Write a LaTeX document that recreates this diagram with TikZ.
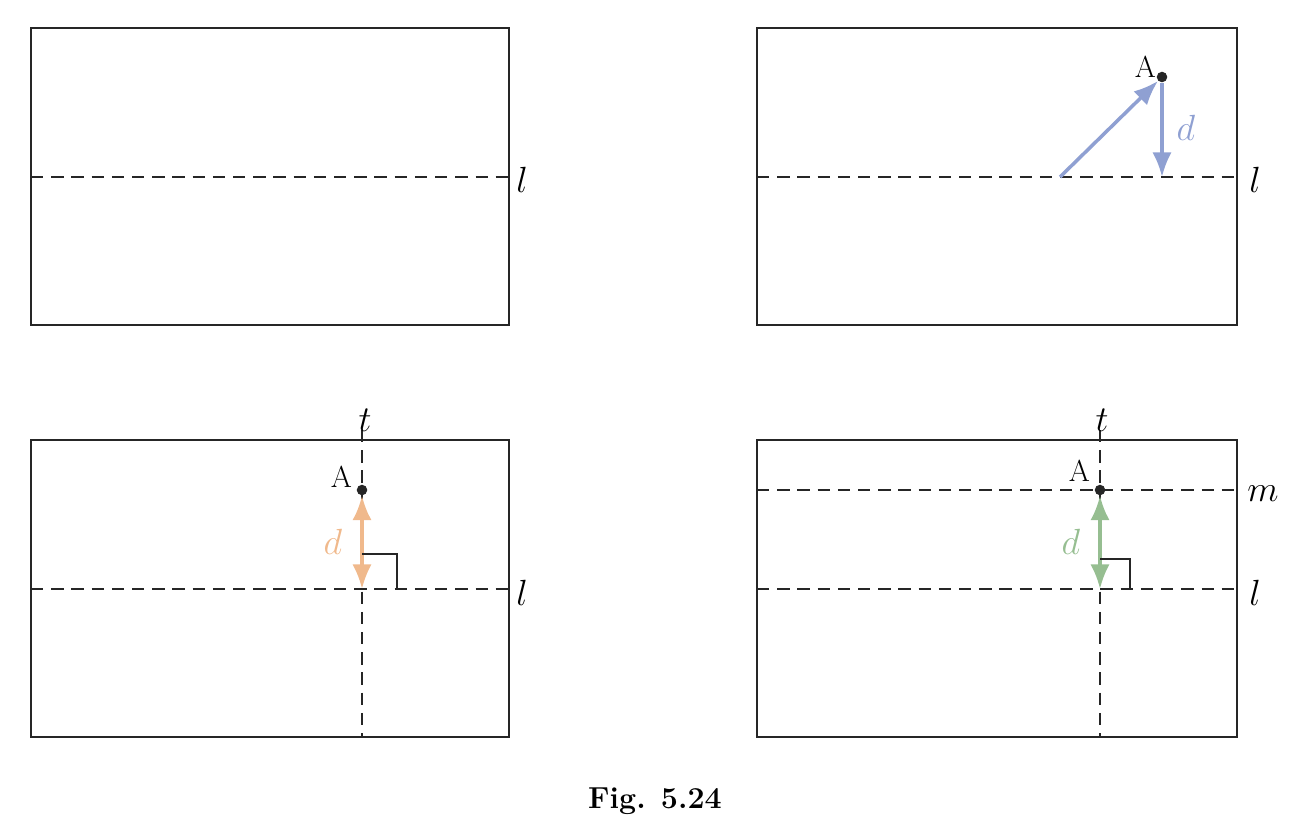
\documentclass[tikz,border=0pt]{standalone}
\usetikzlibrary{arrows.meta}
\begin{document}
\begin{tikzpicture}[x=0.02cm,y=-0.02cm,
 box/.style={line width=1.4pt,draw=black!85},
 dl/.style={dashed,dash pattern=on 7pt off 4.5pt,line width=1.3pt,black!85},
 arr/.style={line width=2pt,-{Latex[length=14pt,width=11pt]}},
 darr/.style={line width=2pt,{Latex[length=14pt,width=11pt]}-{Latex[length=14pt,width=11pt]}},
 lab/.style={font=\huge\itshape},
 al/.style={font=\LARGE,anchor=south east},
 pt/.style={circle,fill=black!85,inner sep=0pt,minimum size=6pt}]
\definecolor{cb}{RGB}{143,160,210}
\definecolor{co}{RGB}{240,185,140}
\definecolor{cg}{RGB}{150,190,145}
\useasboundingbox (0,0) rectangle (1301,816);
% TL
\draw[box] (31,28) rectangle (509,325);
\coordinate (l1a) at (31,177); \coordinate (l1b) at (509,177);
\draw[dl] (l1a) -- (l1b);
\node[lab] (l1) at (522,180) {$l$};
% TR
\draw[box] (757,28) rectangle (1237,325);
\coordinate (l2a) at (757,177); \coordinate (l2b) at (1237,177);
\draw[dl] (l2a) -- (l2b);
\node[lab] (l2) at (1255,180) {$l$};
\node[pt] (A2) at (1162,77) {};
\node[al] (A2l) at (1162,84) {A};
\coordinate (s2) at (1060,177); \coordinate (f2) at (1162,177);
\draw[arr,cb] (s2) -- (A2);
\draw[arr,cb] (A2) -- (f2);
\node[lab,text=cb] (d2) at (1186,128) {$d$};
% BL
\draw[box] (31,440) rectangle (509,737);
\coordinate (l3a) at (31,589); \coordinate (l3b) at (509,589);
\coordinate (t3a) at (362,430); \coordinate (t3b) at (362,737);
\draw[dl] (l3a) -- (l3b);
\draw[dl] (t3a) -- (t3b);
\node[lab] (t3) at (365,420) {$t$};
\node[lab] (l3) at (522,593) {$l$};
\node[pt] (A3) at (362,490) {};
\node[al] (A3l) at (358,494) {A};
\coordinate (f3) at (362,589);
\draw[darr,co] (A3) -- (f3);
\draw[line width=1.4pt,black!85] (362,554) -- (397,554) -- (397,589);
\node[lab,text=co] (d3) at (333,542) {$d$};
% BR
\draw[box] (757,440) rectangle (1237,737);
\coordinate (l4a) at (757,589); \coordinate (l4b) at (1237,589);
\coordinate (m4a) at (757,490); \coordinate (m4b) at (1237,490);
\coordinate (t4a) at (1100,430); \coordinate (t4b) at (1100,737);
\draw[dl] (l4a) -- (l4b);
\draw[dl] (m4a) -- (m4b);
\draw[dl] (t4a) -- (t4b);
\node[lab] (t4) at (1102,420) {$t$};
\node[lab] (l4) at (1255,593) {$l$};
\node[lab] (m4) at (1263,494) {$m$};
\node[pt] (A4) at (1100,490) {};
\node[al] (A4l) at (1096,488) {A};
\coordinate (f4) at (1100,589);
\draw[darr,cg] (A4) -- (f4);
\draw[line width=1.4pt,black!85] (1100,559) -- (1130,559) -- (1130,589);
\node[lab,text=cg] (d4) at (1071,542) {$d$};
% caption
\node[font=\LARGE\bfseries] (cap) at (655,801) {Fig. 5.24};
\end{tikzpicture}
\end{document}
